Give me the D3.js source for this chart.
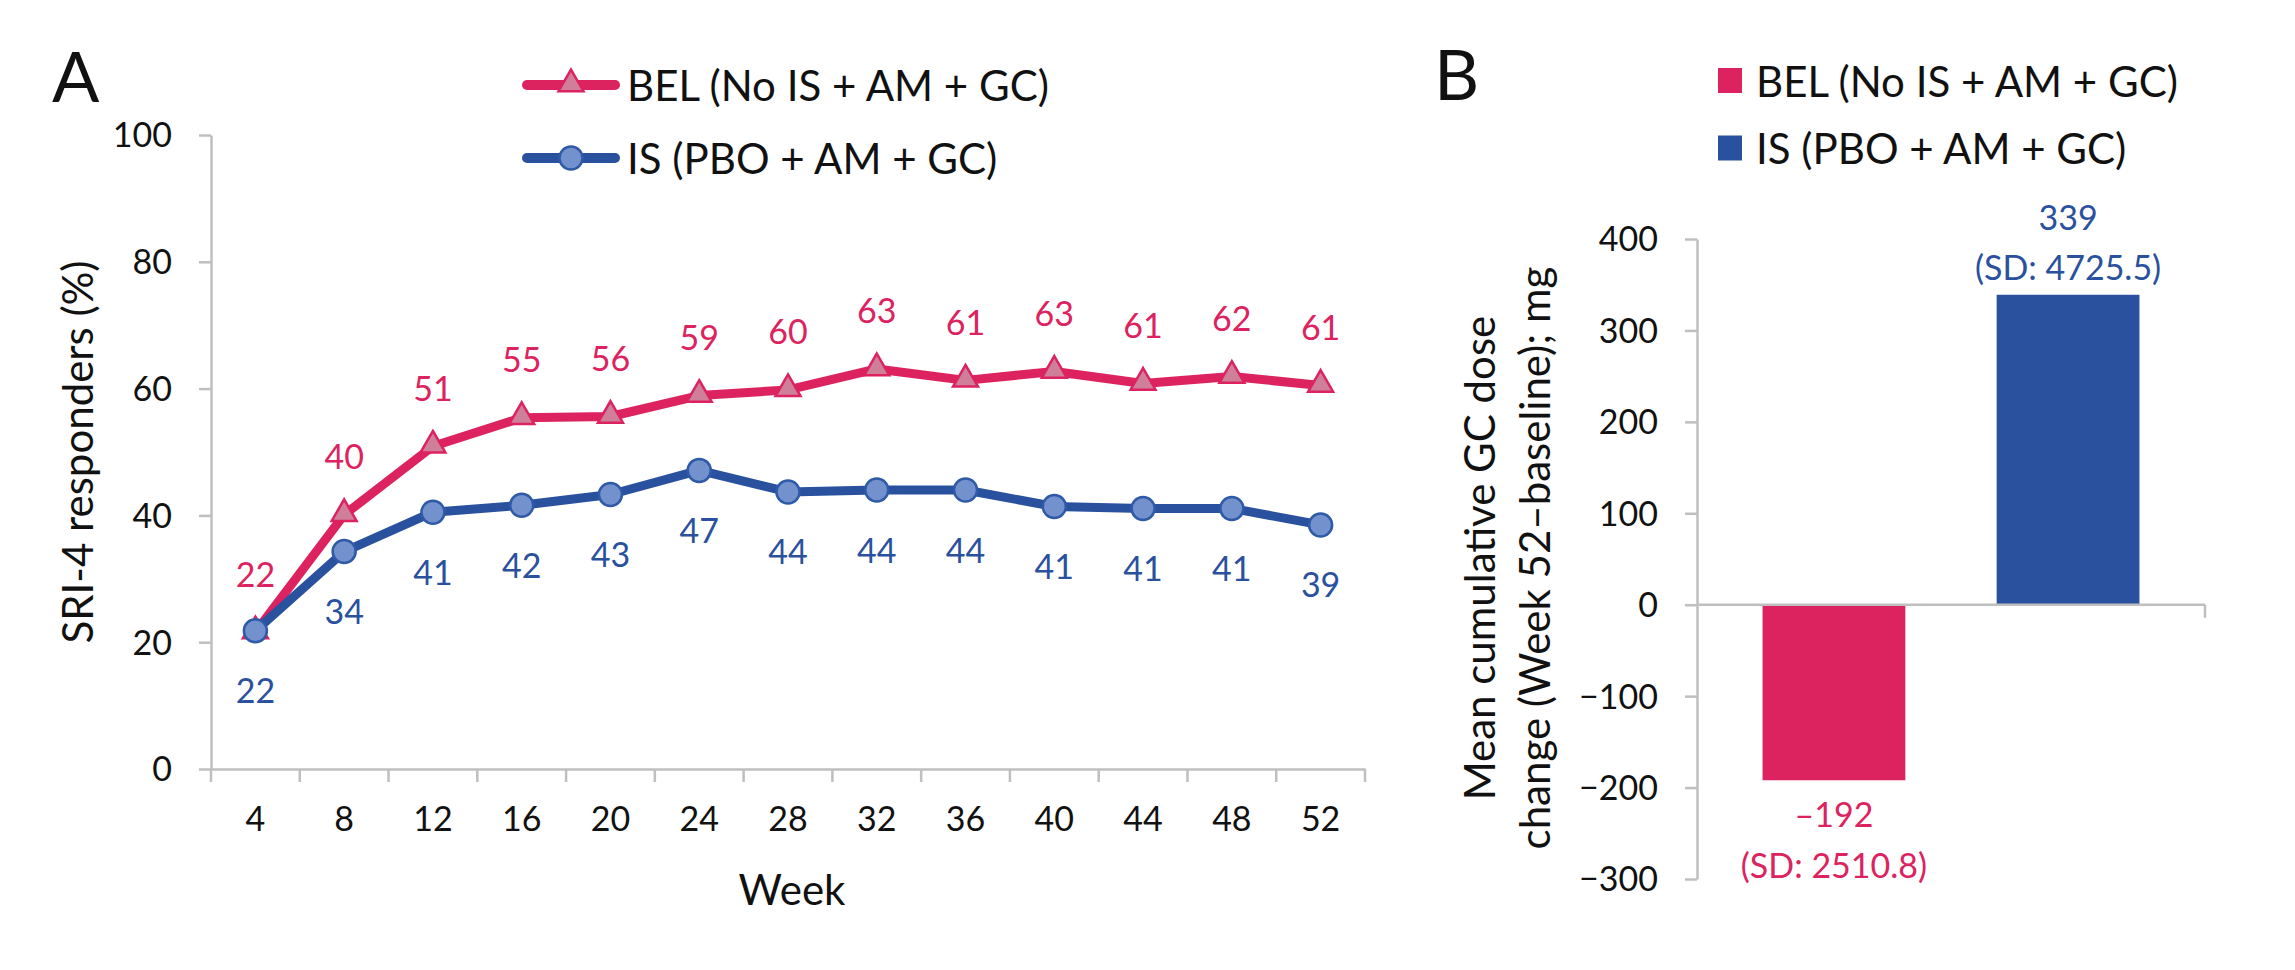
<!DOCTYPE html>
<html><head><meta charset="utf-8">
<script src="https://cdn.jsdelivr.net/npm/d3@7"></script>
<style>
body{margin:0;background:#fff}
text{font-family:Lato,"Open Sans",sans-serif;fill:#111}
</style>
</head><body>
<svg id="chart" width="2295" height="970"></svg>
<script>
// ---------- data ----------
const weeks = [4, 8, 12, 16, 20, 24, 28, 32, 36, 40, 44, 48, 52];
const belValues = [21.6, 40.1, 50.9, 55.4, 55.6, 58.9, 59.8, 63.1, 61.3, 62.7, 60.8, 61.9, 60.5];
const belLabels = ["22", "40", "51", "55", "56", "59", "60", "63", "61", "63", "61", "62", "61"];
const isValues = [21.8, 34.3, 40.5, 41.6, 43.3, 47.1, 43.7, 44.0, 44.0, 41.4, 41.1, 41.1, 38.5];
const isLabels = ["22", "34", "41", "42", "43", "47", "44", "44", "44", "41", "41", "41", "39"];
const seriesNames = ["BEL (No IS + AM + GC)", "IS (PBO + AM + GC)"];
const yTicksA = [0, 20, 40, 60, 80, 100];
const barGroups = ["BEL", "IS"];
const barValues = [-192, 339];
const barValueLabels = ["\u2013192", "339"];
const barSdLabels = ["(SD: 2510.8)", "(SD: 4725.5)"];
const yTicksB = [-300, -200, -100, 0, 100, 200, 300, 400];

// ---------- style ----------
const RED = "#dc2360", BLUE = "#2a519e";
const TRI_FILL = "#cf7f99", CIR_FILL = "#7391cd", CIR_STROKE = "#2f5aa8";
const GRAY = "#bfbfbf";

const svg = d3.select("#chart");

// ================= Panel A =================
const xA = d3.scaleBand().domain(weeks).range([211, 1365]).padding(0);
const yA = d3.scaleLinear().domain([0, 100]).range([769, 135]);

svg.append("text").attr("x", 52).attr("y", 102).attr("font-size", 70).text("A");

// y axis
const gyA = svg.append("g").attr("transform", `translate(${xA.range()[0]},0)`)
  .call(d3.axisLeft(yA).tickValues(yTicksA).tickSize(12).tickSizeOuter(0).tickPadding(27));
gyA.select(".domain").attr("stroke", GRAY).attr("stroke-width", 2.5);
gyA.selectAll(".tick line").attr("stroke", GRAY).attr("stroke-width", 2.5);
gyA.selectAll(".tick text").attr("font-size", 34).attr("font-family", "Lato").attr("fill", "#111").attr("dy", "0.35em");

// x axis
const gxA = svg.append("g").attr("transform", `translate(0,${yA(0)})`)
  .call(d3.axisBottom(xA).tickSize(0).tickPadding(38));
gxA.select(".domain").attr("stroke", GRAY).attr("stroke-width", 2.5);
gxA.selectAll(".tick text").attr("font-size", 34).attr("font-family", "Lato").attr("fill", "#111");
const bounds = weeks.map(w => xA(w)).concat([xA.range()[1]]);
gxA.selectAll(".bnd").data(bounds).join("line")
  .attr("x1", d => d).attr("x2", d => d).attr("y1", 0).attr("y2", 13)
  .attr("stroke", GRAY).attr("stroke-width", 2.5);

svg.append("text").attr("x", 792).attr("y", 889).attr("text-anchor", "middle")
  .attr("dominant-baseline", "central").attr("font-size", 42).text("Week");
svg.append("text").attr("transform", "translate(93,452) rotate(-90)")
  .attr("text-anchor", "middle").attr("font-size", 42).text("SRI-4 responders (%)");

const cx = w => xA(w) + xA.bandwidth() / 2;
const line = d3.line().x(d => cx(d[0])).y(d => yA(d[1]));
const belPts = weeks.map((w, i) => [w, belValues[i], belLabels[i]]);
const isPts = weeks.map((w, i) => [w, isValues[i], isLabels[i]]);

svg.append("path").datum(belPts).attr("d", line).attr("fill", "none")
  .attr("stroke", RED).attr("stroke-width", 9).attr("stroke-linejoin", "round");
const tri = d3.symbol().type(d3.symbolTriangle).size(270);
svg.selectAll(".tri").data(belPts).join("path")
  .attr("transform", d => `translate(${cx(d[0])},${yA(d[1]) - 1})`)
  .attr("d", tri).attr("fill", TRI_FILL).attr("stroke", RED).attr("stroke-width", 2.5);

svg.append("path").datum(isPts).attr("d", line).attr("fill", "none")
  .attr("stroke", BLUE).attr("stroke-width", 9).attr("stroke-linejoin", "round");
svg.selectAll(".cir").data(isPts).join("circle")
  .attr("cx", d => cx(d[0])).attr("cy", d => yA(d[1])).attr("r", 11.5)
  .attr("fill", CIR_FILL).attr("stroke", CIR_STROKE).attr("stroke-width", 2.5);

svg.selectAll(".lb").data(belPts).join("text")
  .attr("x", d => cx(d[0])).attr("y", d => yA(d[1]) - 59)
  .attr("text-anchor", "middle").attr("dominant-baseline", "central")
  .attr("font-size", 34).style("fill", RED).text(d => d[2]);
svg.selectAll(".li").data(isPts).join("text")
  .attr("x", d => cx(d[0])).attr("y", d => yA(d[1]) + 59)
  .attr("text-anchor", "middle").attr("dominant-baseline", "central")
  .attr("font-size", 34).style("fill", BLUE).text(d => d[2]);

// legend A
const legA = [
  {name: seriesNames[0], color: RED, y: 85, mark: "tri"},
  {name: seriesNames[1], color: BLUE, y: 158, mark: "cir"}
];
legA.forEach(l => {
  svg.append("line").attr("x1", 527).attr("x2", 615).attr("y1", l.y).attr("y2", l.y)
    .attr("stroke", l.color).attr("stroke-width", 10).attr("stroke-linecap", "round");
  if (l.mark === "tri") {
    svg.append("path").attr("transform", `translate(571,${l.y - 1})`).attr("d", tri)
      .attr("fill", TRI_FILL).attr("stroke", RED).attr("stroke-width", 2.5);
  } else {
    svg.append("circle").attr("cx", 571).attr("cy", l.y).attr("r", 11.5)
      .attr("fill", CIR_FILL).attr("stroke", CIR_STROKE).attr("stroke-width", 2.5);
  }
  svg.append("text").attr("x", 627).attr("y", l.y).attr("dominant-baseline", "central")
    .attr("font-size", 42).text(l.name);
});

// ================= Panel B =================
const xB = d3.scaleBand().domain(barGroups).range([1697, 2205]).paddingInner(0.39).paddingOuter(0.28);
const yB = d3.scaleLinear().domain([-300, 400]).range([879, 239]);

svg.append("text").attr("x", 1434).attr("y", 100).attr("font-size", 70).text("B");

const gyB = svg.append("g").attr("transform", `translate(${xB.range()[0]},0)`)
  .call(d3.axisLeft(yB).tickValues(yTicksB).tickSize(12).tickSizeOuter(0).tickPadding(27));
gyB.select(".domain").attr("stroke", GRAY).attr("stroke-width", 2.5);
gyB.selectAll(".tick line").attr("stroke", GRAY).attr("stroke-width", 2.5);
gyB.selectAll(".tick text").attr("font-size", 34).attr("font-family", "Lato").attr("fill", "#111").attr("dy", "0.35em");

const barColors = [RED, BLUE];
svg.selectAll(".bar").data(barValues).join("rect")
  .attr("x", (d, i) => xB(barGroups[i]))
  .attr("width", xB.bandwidth())
  .attr("y", d => yB(Math.max(0, d)))
  .attr("height", d => Math.abs(yB(d) - yB(0)))
  .attr("fill", (d, i) => barColors[i]);

// zero axis
svg.append("line").attr("x1", xB.range()[0]).attr("x2", xB.range()[1])
  .attr("y1", yB(0)).attr("y2", yB(0)).attr("stroke", GRAY).attr("stroke-width", 2.5);
svg.append("line").attr("x1", xB.range()[1]).attr("x2", xB.range()[1])
  .attr("y1", yB(0)).attr("y2", yB(0) + 13).attr("stroke", GRAY).attr("stroke-width", 2.5);

barValues.forEach((v, i) => {
  const bx = xB(barGroups[i]) + xB.bandwidth() / 2;
  const pos = v >= 0;
  const y1 = pos ? yB(v) - 78 : yB(v) + 33;
  const y2 = pos ? yB(v) - 28 : yB(v) + 84;
  svg.append("text").attr("x", bx).attr("y", y1).attr("text-anchor", "middle")
    .attr("dominant-baseline", "central").attr("font-size", 34).style("fill", barColors[i]).text(barValueLabels[i]);
  svg.append("text").attr("x", bx).attr("y", y2).attr("text-anchor", "middle")
    .attr("dominant-baseline", "central").attr("font-size", 34).style("fill", barColors[i]).text(barSdLabels[i]);
});

svg.append("text").attr("transform", "translate(1495,558) rotate(-90)")
  .attr("text-anchor", "middle").attr("font-size", 42).text("Mean cumulative GC dose");
svg.append("text").attr("transform", "translate(1550,558) rotate(-90)")
  .attr("text-anchor", "middle").attr("font-size", 42).text("change (Week 52\u2013baseline); mg");

// legend B
[{name: seriesNames[0], color: RED, y: 80.5}, {name: seriesNames[1], color: BLUE, y: 148}].forEach(l => {
  svg.append("rect").attr("x", 1718).attr("y", l.y - 12.5).attr("width", 24).attr("height", 25).attr("fill", l.color);
  svg.append("text").attr("x", 1756).attr("y", l.y).attr("dominant-baseline", "central")
    .attr("font-size", 42).text(l.name);
});
</script>
</body></html>
